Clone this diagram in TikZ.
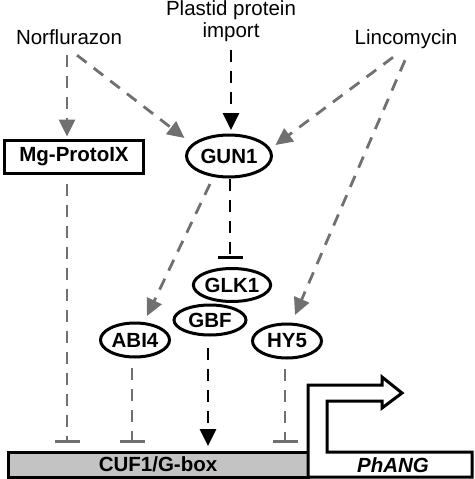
\documentclass[tikz,border=0pt]{standalone}
\usepackage{fontspec}
\setmainfont{Liberation Sans}
\usepackage{tikz}
\usetikzlibrary{shapes.geometric, arrows.meta, calc}
\definecolor{sigGray}{HTML}{707070}
\definecolor{boxGray}{HTML}{C3C3C3}

\begin{document}
\begin{tikzpicture}[x=1pt,y=-1pt,
  lbl/.style={font=\fontsize{20.5}{22}\selectfont, inner sep=2pt, outer sep=0pt},
  prot/.style={ellipse, draw=black, line width=3pt, fill=white, inner sep=0pt, outer sep=0pt, font=\fontsize{20.5}{22}\selectfont\bfseries},
  grayarr/.style={draw=sigGray, line width=2.8pt, dash pattern=on 12pt off 9pt, -{Triangle[length=17pt,width=16pt]}},
  grayinh/.style={draw=sigGray, line width=2.8pt, dash pattern=on 12pt off 9pt, -{Bar[width=25pt]}},
  blackarr/.style={draw=black, line width=2.8pt, dash pattern=on 12pt off 9pt, -{Triangle[length=17pt,width=16pt]}},
  blackinh/.style={draw=black, line width=2.8pt, dash pattern=on 12pt off 9pt, -{Bar[width=25pt]}}]
\useasboundingbox (0,0) rectangle (474,479);

\node[lbl, anchor=base] (nor) at (69,44) {Norflurazon};
\node[lbl, align=center] (imp) at (231,21) {Plastid protein\\import};
\node[lbl, anchor=base] (lin) at (406,44) {Lincomycin};

\node[draw=black, line width=3pt, fill=white, minimum width=139, minimum height=33, inner sep=0pt, outer sep=0pt, font=\fontsize{20.5}{22}\selectfont\bfseries] (mg) at (74,157) {Mg-ProtoIX};
\node[prot, minimum width=85, minimum height=42] (gun) at (229,156) {GUN1};
\node[prot, minimum width=68, minimum height=33] (glk) at (232,285) {GLK1};
\node[prot, minimum width=72, minimum height=30] (gbf) at (210,320) {GBF};
\node[prot, minimum width=69, minimum height=34] (abi) at (135,340) {ABI4};
\node[prot, minimum width=69, minimum height=34] (hy) at (287,341) {HY5};

\node[draw=black, line width=3pt, fill=boxGray, minimum width=300, minimum height=25, inner sep=0pt, outer sep=0pt, font=\fontsize{20.5}{22}\selectfont\bfseries] (cuf) at (158,464.5) {CUF1/G-box};
\draw[line width=3pt, fill=white] (308,477) -- (308,385) -- (382,385) -- (382,377) -- (402,393) -- (382,408) -- (382,401) -- (327,401) -- (327,452) -- (472,452) -- (472,477) -- cycle;
\node[lbl, font=\fontsize{20.5}{22}\selectfont\bfseries\itshape] (phang) at (393,465) {PhANG};

\draw[grayarr] ($(nor.south)+(-2,9)$) -- ($(mg.north)+(-7,-4)$);
\draw[grayarr] ($(nor.south)+(8,9)$) -- ($(gun.west)+(-2,-18)$);
\draw[blackarr] ($(imp.south)+(0,6)$) -- ($(gun.north)+(2,-5)$);
\draw[grayarr] ($(lin.south)+(-13,7)$) -- ($(gun.east)+(4,-11)$);
\draw[grayarr] ($(lin.south)+(-1,10)$) -- ($(hy.north)+(8,-9)$);
\draw[grayarr] ($(gun.south)+(-19,7)$) -- ($(abi.north)+(12,-7)$);
\draw[blackinh] ($(gun.south)+(1,2)$) -- ($(glk.north)+(-2,-10)$);
\draw[blackarr] ($(gbf.south)+(-2,13)$) -- ($(gbf.south |- cuf.north)+(-2,-6)$);
\draw[grayinh] ($(mg.south)+(-7,10)$) -- ($(mg.south |- cuf.north)+(-7,-9)$);
\draw[grayinh] ($(abi.south)+(-3,11)$) -- ($(abi.south |- cuf.north)+(-3,-9)$);
\draw[grayinh] ($(hy.south)+(-2,11)$) -- ($(hy.south |- cuf.north)+(-2,-9)$);
\end{tikzpicture}
\end{document}
